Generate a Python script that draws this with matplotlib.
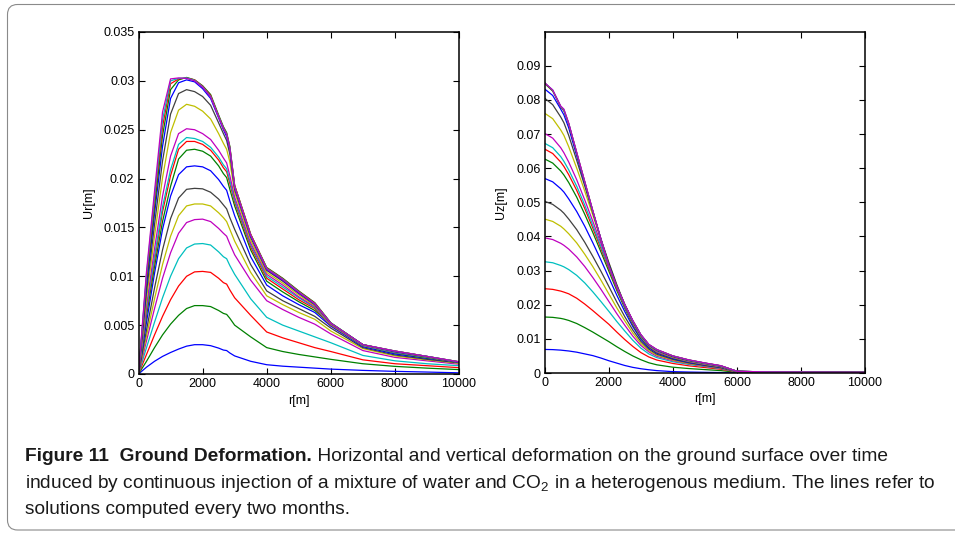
import matplotlib
matplotlib.use('Agg')
import matplotlib.pyplot as plt
from matplotlib import font_manager
from matplotlib.patches import FancyBboxPatch
from matplotlib.transforms import IdentityTransform
from matplotlib.ticker import FuncFormatter

# ---- data (displacements in mm) ----
r_ur = [0, 250, 500, 750, 1000, 1250, 1500, 1750, 2000, 2250, 2500, 2650, 2750,
        2850, 3000, 3500, 4000, 4500, 5000, 5500, 6000, 7000, 8000, 9000, 10000]

ur_01 = [0, 0.7, 1.3, 1.8, 2.2, 2.55, 2.85, 3.0, 3.0, 2.9, 2.65, 2.45, 2.4, 2.15, 1.85, 1.3, 0.95, 0.8, 0.7, 0.6, 0.5, 0.37, 0.27, 0.2, 0.12]
ur_02 = [0, 1.3, 2.7, 4.0, 5.1, 6.0, 6.7, 7.0, 7.0, 6.9, 6.5, 6.2, 6.1, 5.7, 5.0, 3.8, 2.7, 2.3, 2.0, 1.75, 1.5, 1.05, 0.78, 0.6, 0.45]
ur_03 = [0, 2.0, 4.0, 5.9, 7.6, 9.0, 10.0, 10.45, 10.5, 10.4, 9.8, 9.35, 9.2, 8.6, 7.8, 6.0, 4.3, 3.7, 3.2, 2.7, 2.3, 1.45, 1.05, 0.85, 0.65]
ur_04 = [0, 2.7, 5.3, 7.8, 10.0, 11.8, 12.9, 13.3, 13.35, 13.2, 12.5, 12.0, 11.8, 11.1, 10.2, 7.7, 5.8, 5.0, 4.4, 3.8, 3.2, 1.9, 1.35, 1.05, 0.85]
ur_05 = [0, 3.4, 6.7, 9.8, 12.4, 14.4, 15.5, 15.8, 15.85, 15.6, 14.9, 14.4, 14.1, 13.3, 12.2, 9.6, 7.5, 6.6, 5.8, 5.1, 4.1, 2.4, 1.7, 1.35, 1.0]
ur_06 = [0, 3.9, 7.7, 11.2, 14.1, 16.2, 17.2, 17.4, 17.4, 17.2, 16.5, 16.0, 15.6, 14.8, 13.6, 10.4, 8.0, 7.1, 6.3, 5.6, 4.4, 2.6, 1.85, 1.45, 1.1]
ur_07 = [0, 4.5, 8.8, 12.7, 15.9, 18.0, 18.9, 19.0, 18.95, 18.6, 17.9, 17.3, 16.9, 16.0, 14.8, 11.2, 8.5, 7.5, 6.7, 5.9, 4.7, 2.7, 1.95, 1.5, 1.15]
ur_08 = [0, 5.3, 10.3, 14.8, 18.2, 20.4, 21.2, 21.3, 21.2, 20.8, 19.9, 19.2, 18.8, 17.7, 16.2, 12.0, 9.1, 8.0, 7.1, 6.3, 4.9, 2.8, 2.05, 1.6, 1.2]
ur_09 = [0, 6.0, 11.0, 15.6, 19.2, 22.0, 22.9, 23.0, 22.8, 22.3, 21.3, 20.5, 20.1, 18.9, 17.2, 12.7, 9.5, 8.4, 7.4, 6.5, 5.1, 2.9, 2.15, 1.65, 1.2]
ur_10 = [0, 6.4, 11.6, 16.6, 20.3, 23.0, 23.8, 23.8, 23.5, 22.9, 21.9, 21.1, 20.7, 19.5, 17.6, 13.0, 9.8, 8.7, 7.6, 6.7, 5.0, 2.9, 2.2, 1.7, 1.2]
ur_11 = [0, 6.6, 12.0, 17.1, 20.9, 23.5, 24.2, 24.1, 23.8, 23.2, 22.2, 21.4, 21.0, 19.8, 17.8, 13.2, 10.0, 8.9, 7.8, 6.8, 5.05, 2.9, 2.2, 1.7, 1.2]
ur_12 = [0, 7.0, 12.8, 18.2, 22.3, 24.6, 25.1, 25.0, 24.6, 24.0, 22.9, 22.1, 21.6, 20.3, 18.1, 13.4, 10.2, 9.1, 7.9, 6.9, 5.1, 2.95, 2.25, 1.75, 1.2]
ur_13 = [0, 7.7, 14.1, 20.1, 24.7, 27.0, 27.6, 27.4, 26.9, 26.1, 24.6, 23.6, 23.0, 21.7, 18.6, 13.7, 10.4, 9.3, 8.1, 7.0, 5.1, 2.95, 2.3, 1.75, 1.2]
ur_14 = [0, 8.4, 15.3, 21.8, 26.6, 28.7, 29.1, 28.9, 28.4, 27.5, 25.7, 24.6, 23.9, 22.5, 18.9, 14.0, 10.6, 9.5, 8.25, 7.1, 5.15, 3.0, 2.3, 1.75, 1.2]
ur_15 = [0, 9.0, 16.4, 23.3, 28.2, 29.8, 30.1, 29.9, 29.2, 28.2, 26.2, 25.0, 24.3, 23.0, 19.1, 14.1, 10.7, 9.6, 8.3, 7.15, 5.2, 3.0, 2.3, 1.8, 1.2]
ur_16 = [0, 9.5, 17.1, 24.4, 29.1, 30.1, 30.35, 30.1, 29.5, 28.6, 26.5, 25.3, 24.7, 23.3, 19.3, 14.3, 10.9, 9.8, 8.5, 7.3, 5.25, 3.0, 2.35, 1.8, 1.25]
ur_17 = [0, 9.9, 17.7, 25.3, 29.7, 30.2, 30.3, 30.1, 29.45, 28.5, 26.4, 25.2, 24.6, 23.2, 19.3, 14.3, 10.85, 9.75, 8.45, 7.25, 5.2, 3.0, 2.35, 1.8, 1.25]
ur_18 = [0, 10.2, 18.2, 26.0, 30.0, 30.25, 30.3, 30.05, 29.4, 28.4, 26.35, 25.15, 24.55, 23.15, 19.2, 14.2, 10.8, 9.7, 8.4, 7.2, 5.2, 3.0, 2.35, 1.8, 1.25]
ur_19 = [0, 10.5, 18.7, 26.8, 30.2, 30.3, 30.25, 30.0, 29.35, 28.35, 26.3, 25.1, 24.5, 23.1, 19.15, 14.2, 10.75, 9.65, 8.35, 7.2, 5.2, 3.0, 2.35, 1.8, 1.25]

r_uz = [0, 250, 500, 600, 750, 1000, 1250, 1500, 1750, 2000, 2250, 2500, 2750,
        3000, 3250, 3500, 4000, 4500, 5000, 5500, 6000, 7000, 10000]

uz_01 = [6.9, 6.85, 6.7, 6.6, 6.45, 6.1, 5.6, 5.1, 4.4, 3.6, 2.9, 2.2, 1.65, 1.25, 0.95, 0.7, 0.4, 0.28, 0.2, 0.13, 0.05, 0.03, 0.02]
uz_02 = [16.4, 16.3, 16.0, 15.8, 15.4, 14.5, 13.3, 12.0, 10.6, 9.2, 7.7, 6.3, 5.0, 3.9, 3.0, 2.4, 1.7, 1.3, 1.0, 0.7, 0.2, 0.1, 0.05]
uz_03 = [24.7, 24.5, 24.0, 23.7, 23.2, 21.9, 20.2, 18.3, 16.3, 14.3, 12.0, 9.8, 7.8, 6.0, 4.7, 3.8, 2.8, 2.1, 1.6, 1.1, 0.3, 0.15, 0.08]
uz_04 = [32.6, 32.3, 31.5, 31.1, 30.3, 28.6, 26.4, 23.8, 21.0, 18.1, 15.1, 12.3, 9.6, 7.3, 5.6, 4.5, 3.3, 2.5, 1.9, 1.3, 0.35, 0.18, 0.1]
uz_05 = [39.6, 39.1, 38.0, 37.4, 36.3, 34.0, 31.2, 28.0, 24.6, 21.0, 17.4, 14.0, 10.8, 8.1, 6.2, 4.9, 3.6, 2.7, 2.0, 1.4, 0.4, 0.2, 0.1]
uz_06 = [45.1, 44.4, 43.0, 42.2, 40.8, 38.1, 34.8, 31.2, 27.3, 23.2, 19.1, 15.3, 11.7, 8.7, 6.6, 5.2, 3.8, 2.8, 2.1, 1.5, 0.4, 0.2, 0.12]
uz_07 = [50.3, 49.4, 47.7, 46.8, 45.1, 42.0, 38.3, 34.2, 29.9, 25.4, 20.8, 16.5, 12.6, 9.3, 7.0, 5.5, 4.0, 2.95, 2.2, 1.55, 0.42, 0.22, 0.13]
uz_08 = [57.0, 56.0, 54.0, 53.0, 51.0, 47.3, 43.0, 38.2, 33.2, 28.0, 22.8, 18.0, 13.6, 9.9, 7.4, 5.8, 4.2, 3.1, 2.3, 1.65, 0.45, 0.25, 0.15]
uz_09 = [62.7, 61.5, 59.2, 58.0, 55.8, 51.5, 46.5, 41.2, 35.6, 29.9, 24.2, 19.0, 14.2, 10.3, 7.7, 6.0, 4.4, 3.25, 2.45, 1.75, 0.45, 0.25, 0.15]
uz_10 = [65.6, 64.3, 61.8, 60.5, 58.1, 53.5, 48.2, 42.5, 36.6, 30.6, 24.7, 19.3, 14.4, 10.5, 7.8, 6.1, 4.5, 3.35, 2.5, 1.8, 0.45, 0.25, 0.15]
uz_11 = [67.3, 66.0, 63.4, 62.0, 59.5, 54.7, 49.2, 43.3, 37.2, 31.0, 25.0, 19.5, 14.6, 10.6, 7.9, 6.2, 4.55, 3.4, 2.55, 1.85, 0.45, 0.25, 0.15]
uz_12 = [70.2, 68.8, 66.0, 64.5, 61.8, 56.6, 50.7, 44.5, 38.1, 31.6, 25.4, 19.8, 14.8, 10.8, 8.0, 6.3, 4.6, 3.45, 2.6, 1.9, 0.45, 0.25, 0.15]
uz_13 = [76.1, 74.5, 71.2, 69.6, 66.3, 60.0, 53.3, 46.3, 39.2, 32.3, 25.8, 20.0, 15.0, 10.9, 8.1, 6.5, 4.7, 3.55, 2.7, 1.95, 0.5, 0.28, 0.18]
uz_14 = [80.5, 78.6, 75.0, 73.3, 69.6, 62.3, 54.8, 47.1, 39.4, 32.4, 25.9, 20.0, 15.1, 11.0, 8.2, 6.6, 4.8, 3.65, 2.8, 2.0, 0.5, 0.28, 0.18]
uz_15 = [83.2, 81.3, 77.3, 75.6, 71.8, 63.6, 55.5, 47.4, 39.4, 31.7, 25.4, 20.0, 15.2, 11.1, 8.25, 6.7, 4.9, 3.7, 2.85, 2.05, 0.5, 0.3, 0.2]
uz_16 = [84.8, 82.6, 78.0, 76.8, 73.0, 64.3, 55.9, 47.5, 39.3, 31.4, 25.3, 20.0, 15.3, 11.2, 8.3, 6.8, 5.0, 3.8, 2.9, 2.1, 0.5, 0.3, 0.2]
uz_17 = [85.0, 82.8, 78.0, 77.0, 73.0, 64.5, 56.0, 47.5, 39.3, 31.3, 25.2, 20.0, 15.3, 11.2, 8.3, 6.8, 5.0, 3.8, 2.9, 2.1, 0.5, 0.3, 0.2]
uz_18 = [85.0, 82.9, 78.1, 77.1, 73.1, 64.5, 56.0, 47.5, 39.3, 31.3, 25.2, 20.0, 15.3, 11.2, 8.3, 6.8, 5.0, 3.8, 2.9, 2.1, 0.5, 0.3, 0.2]
uz_19 = [85.0, 82.9, 78.2, 77.3, 73.2, 64.6, 56.1, 47.6, 39.4, 31.4, 25.3, 20.1, 15.4, 11.3, 8.4, 6.9, 5.0, 3.85, 2.95, 2.15, 0.5, 0.3, 0.2]

ur_all = [ur_01, ur_02, ur_03, ur_04, ur_05, ur_06, ur_07, ur_08, ur_09, ur_10,
          ur_11, ur_12, ur_13, ur_14, ur_15, ur_16, ur_17, ur_18, ur_19]
uz_all = [uz_01, uz_02, uz_03, uz_04, uz_05, uz_06, uz_07, uz_08, uz_09, uz_10,
          uz_11, uz_12, uz_13, uz_14, uz_15, uz_16, uz_17, uz_18, uz_19]

x_ticks = [0, 2000, 4000, 6000, 8000, 10000]
ur_ticks = [0, 0.005, 0.01, 0.015, 0.02, 0.025, 0.03, 0.035]
uz_ticks = [0, 0.01, 0.02, 0.03, 0.04, 0.05, 0.06, 0.07, 0.08, 0.09]

# matlab's old default color order
line_colors = [(0, 0, 1), (0, 0.5, 0), (1, 0, 0), (0, 0.75, 0.75),
               (0.75, 0, 0.75), (0.75, 0.75, 0), (0.25, 0.25, 0.25)]

caption_bold = 'Figure 11  Ground Deformation.'
caption_1 = ' Horizontal and vertical deformation on the ground surface over time'
caption_2 = ('induced by continuous injection of a mixture of water and '
             r'$\mathregular{CO_2}$ in a heterogenous medium. The lines refer to')
caption_3 = 'solutions computed every two months.'

plt.rcParams['font.family'] = 'Liberation Sans'
font_names = {f.name for f in font_manager.fontManager.ttflist}
cap_font = 'Liberation Sans Narrow' if 'Liberation Sans Narrow' in font_names else 'Liberation Sans'
cap_size = 16.5 if cap_font == 'Liberation Sans Narrow' else 13.8

fig = plt.figure(figsize=(9.55, 5.33), dpi=100)
ax1 = fig.add_axes([138.5 / 955, 1 - 374 / 533, 320.5 / 955, 342 / 533])
ax2 = fig.add_axes([544.7 / 955, 1 - 373 / 533, 320.3 / 955, 341 / 533])

fmt = FuncFormatter(lambda v, p: f'{v:g}')


def style_axes(ax, ymax, yticks, ylabel, label_x):
    ax.set_xlim(0, 10000)
    ax.set_ylim(0, ymax)
    ax.set_xticks(x_ticks)
    ax.set_yticks(yticks)
    ax.xaxis.set_major_formatter(fmt)
    ax.yaxis.set_major_formatter(fmt)
    ax.tick_params(direction='in', top=True, right=True, length=4, width=0.8,
                   labelsize=9, pad=3, colors='black')
    for s in ax.spines.values():
        s.set_linewidth(1.1)
    ax.set_xlabel('r[m]', fontsize=9)
    ax.set_ylabel(ylabel, fontsize=9)
    ax.xaxis.set_label_coords(0.5, -0.06)
    ax.xaxis.label.set_va('top')
    ax.yaxis.set_label_coords(label_x, 0.5)


for i, vals in enumerate(ur_all):
    ax1.plot(r_ur, [v / 1000 for v in vals], color=line_colors[i % 7], lw=0.9)
for i, vals in enumerate(uz_all):
    ax2.plot(r_uz, [v / 1000 for v in vals], color=line_colors[i % 7], lw=0.9)

style_axes(ax1, 0.035, ur_ticks, 'Ur[m]', -0.137)
style_axes(ax2, 0.0999, uz_ticks, 'Uz[m]', -0.118)

# caption, pixel coordinates with y going down
cap = fig.add_axes([0, 0, 1, 1], zorder=-1)
cap.set_xlim(0, 955)
cap.set_ylim(533, 0)
cap.axis('off')
t_bold = cap.text(25, 461, caption_bold, fontweight='bold', va='baseline',
                  fontfamily=cap_font, fontsize=cap_size, color='#1a1a1a')
cap.annotate(caption_1, xy=(1, 0), xycoords=t_bold, va='bottom', ha='left',
             fontfamily=cap_font, fontsize=cap_size, color='#1a1a1a')
cap.text(25, 487.5, caption_2, va='baseline', fontfamily=cap_font,
         fontsize=cap_size, color='#1a1a1a')
cap.text(25, 513.5, caption_3, va='baseline', fontfamily=cap_font,
         fontsize=cap_size, color='#1a1a1a')

# rounded frame around the figure, runs off the right edge
frame = FancyBboxPatch((7.5, 533 - 530), 980, 530 - 4.5,
                       boxstyle='round,pad=0,rounding_size=10',
                       transform=IdentityTransform(), fill=False,
                       edgecolor='#8a8a8a', lw=0.8)
fig.patches.append(frame)

fig.savefig('out.png', dpi=100)
